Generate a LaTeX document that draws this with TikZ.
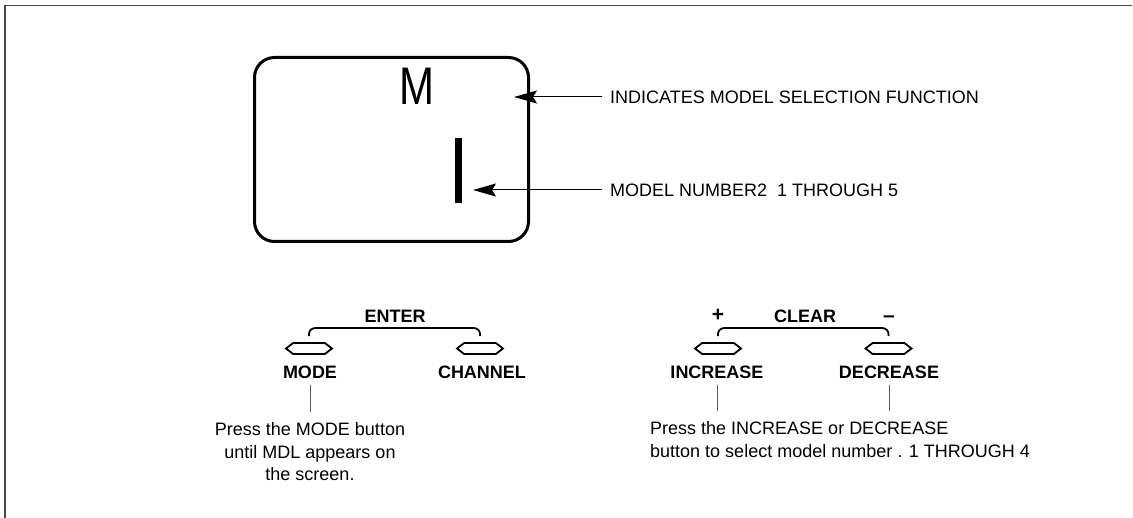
\documentclass[tikz,border=0pt]{standalone}
\usepackage{fontspec}
\setmainfont{Liberation Sans}
\usepackage{graphicx}
\usepackage{tikz}
\usetikzlibrary{arrows.meta, positioning, calc, shapes.symbols}
\definecolor{leadgray}{RGB}{90,90,90}
\definecolor{framegray}{RGB}{70,70,70}

\begin{document}
\begin{tikzpicture}[x=1pt, y=-1pt,
  lbl/.style={font=\fontsize{18}{22.5}\selectfont, inner sep=0pt},
  keylbl/.style={font=\fontsize{18}{22}\selectfont\bfseries, inner sep=0pt},
  signlbl/.style={font=\fontsize{21}{22}\selectfont\bfseries, inner sep=0pt},
  btn/.style={draw, line width=1.8pt, signal, signal to=east and west, signal pointer angle=75, minimum width=46pt, minimum height=11pt, inner sep=0pt},
  brk/.style={line width=1.8pt, rounded corners=6pt},
  lead/.style={draw=leadgray, line width=1pt, shorten <=6pt, shorten >=10.5pt},
  pointer/.style={line width=1pt, -{Stealth[length=23pt, width=13pt, inset=4pt]}}]
  \useasboundingbox (0,0) rectangle (1133,518);
  \draw[framegray, line width=1.5pt] (1132,5.7) -- (5,5.7) -- (5,518);

  % display window
  \node[draw, line width=3pt, rounded corners=20pt, minimum width=274pt, minimum height=184pt] (disp) at (391.5,149.5) {};
  \node[inner sep=0pt, font=\fontsize{42}{42}\selectfont] (dispM) at (417,86) {\scalebox{1}[1.26]{M}};
  \node[fill=black, inner sep=0pt, minimum width=7pt, minimum height=65pt] (bar) at (458.5,170.5) {};
  \coordinate (mtip) at (514,97);
  \coordinate (bartip) at (473,190);

  \node[lbl, anchor=west] (ind) at (610,97) {INDICATES MODEL SELECTION FUNCTION};
  \node[lbl, anchor=west] (num) at (610,190) {MODEL NUMBER2\ \ 1 THROUGH 5};
  \draw[pointer] ([xshift=-8pt]ind.west) -- (ind.west -| mtip);
  \draw[pointer] ([xshift=-8pt]num.west) -- (num.west -| bartip);

  % left key pair
  \node[btn] (bmode) at (309,348.5) {};
  \node[btn] (bchan) at (480,348.5) {};
  \node[keylbl] (enter) at (395,316) {ENTER};
  \draw[brk] ([yshift=6pt]bmode.north) -- ++(0,-8) -| ([yshift=6pt]bchan.north);
  \node[keylbl] (tmode) at (310,372.5) {MODE};
  \node[keylbl] (tchan) at (482,372.5) {CHANNEL};
  \node[lbl, align=center, anchor=north] (pmode) at (310,422.5) {Press the MODE button\\until MDL appears on\\the screen.};
  \draw[lead] (tmode.south) -- (tmode.south |- pmode.north);

  % right key pair
  \node[btn] (binc) at (718,348.5) {};
  \node[btn] (bdec) at (888.5,348.5) {};
  \node[keylbl] (clear) at (805,316) {CLEAR};
  \node[signlbl] (plus) at (718,315.5) {+};
  \node[signlbl] (minus) at (889,319.5) {--};
  \draw[brk] ([yshift=6pt]binc.north) -- ++(0,-8) -| ([yshift=6pt]bdec.north);
  \node[keylbl] (tinc) at (717,372.5) {INCREASE};
  \node[keylbl] (tdec) at (889,372.5) {DECREASE};
  \node[lbl, align=left, anchor=north west] (pinc) at (650,421.5) {Press the INCREASE or DECREASE\\button to select model number . 1 THROUGH 4};
  \draw[lead] (tinc.south) -- (tinc.south |- pinc.north);
  \draw[lead] (tdec.south) -- (tdec.south |- pinc.north);
\end{tikzpicture}
\end{document}
